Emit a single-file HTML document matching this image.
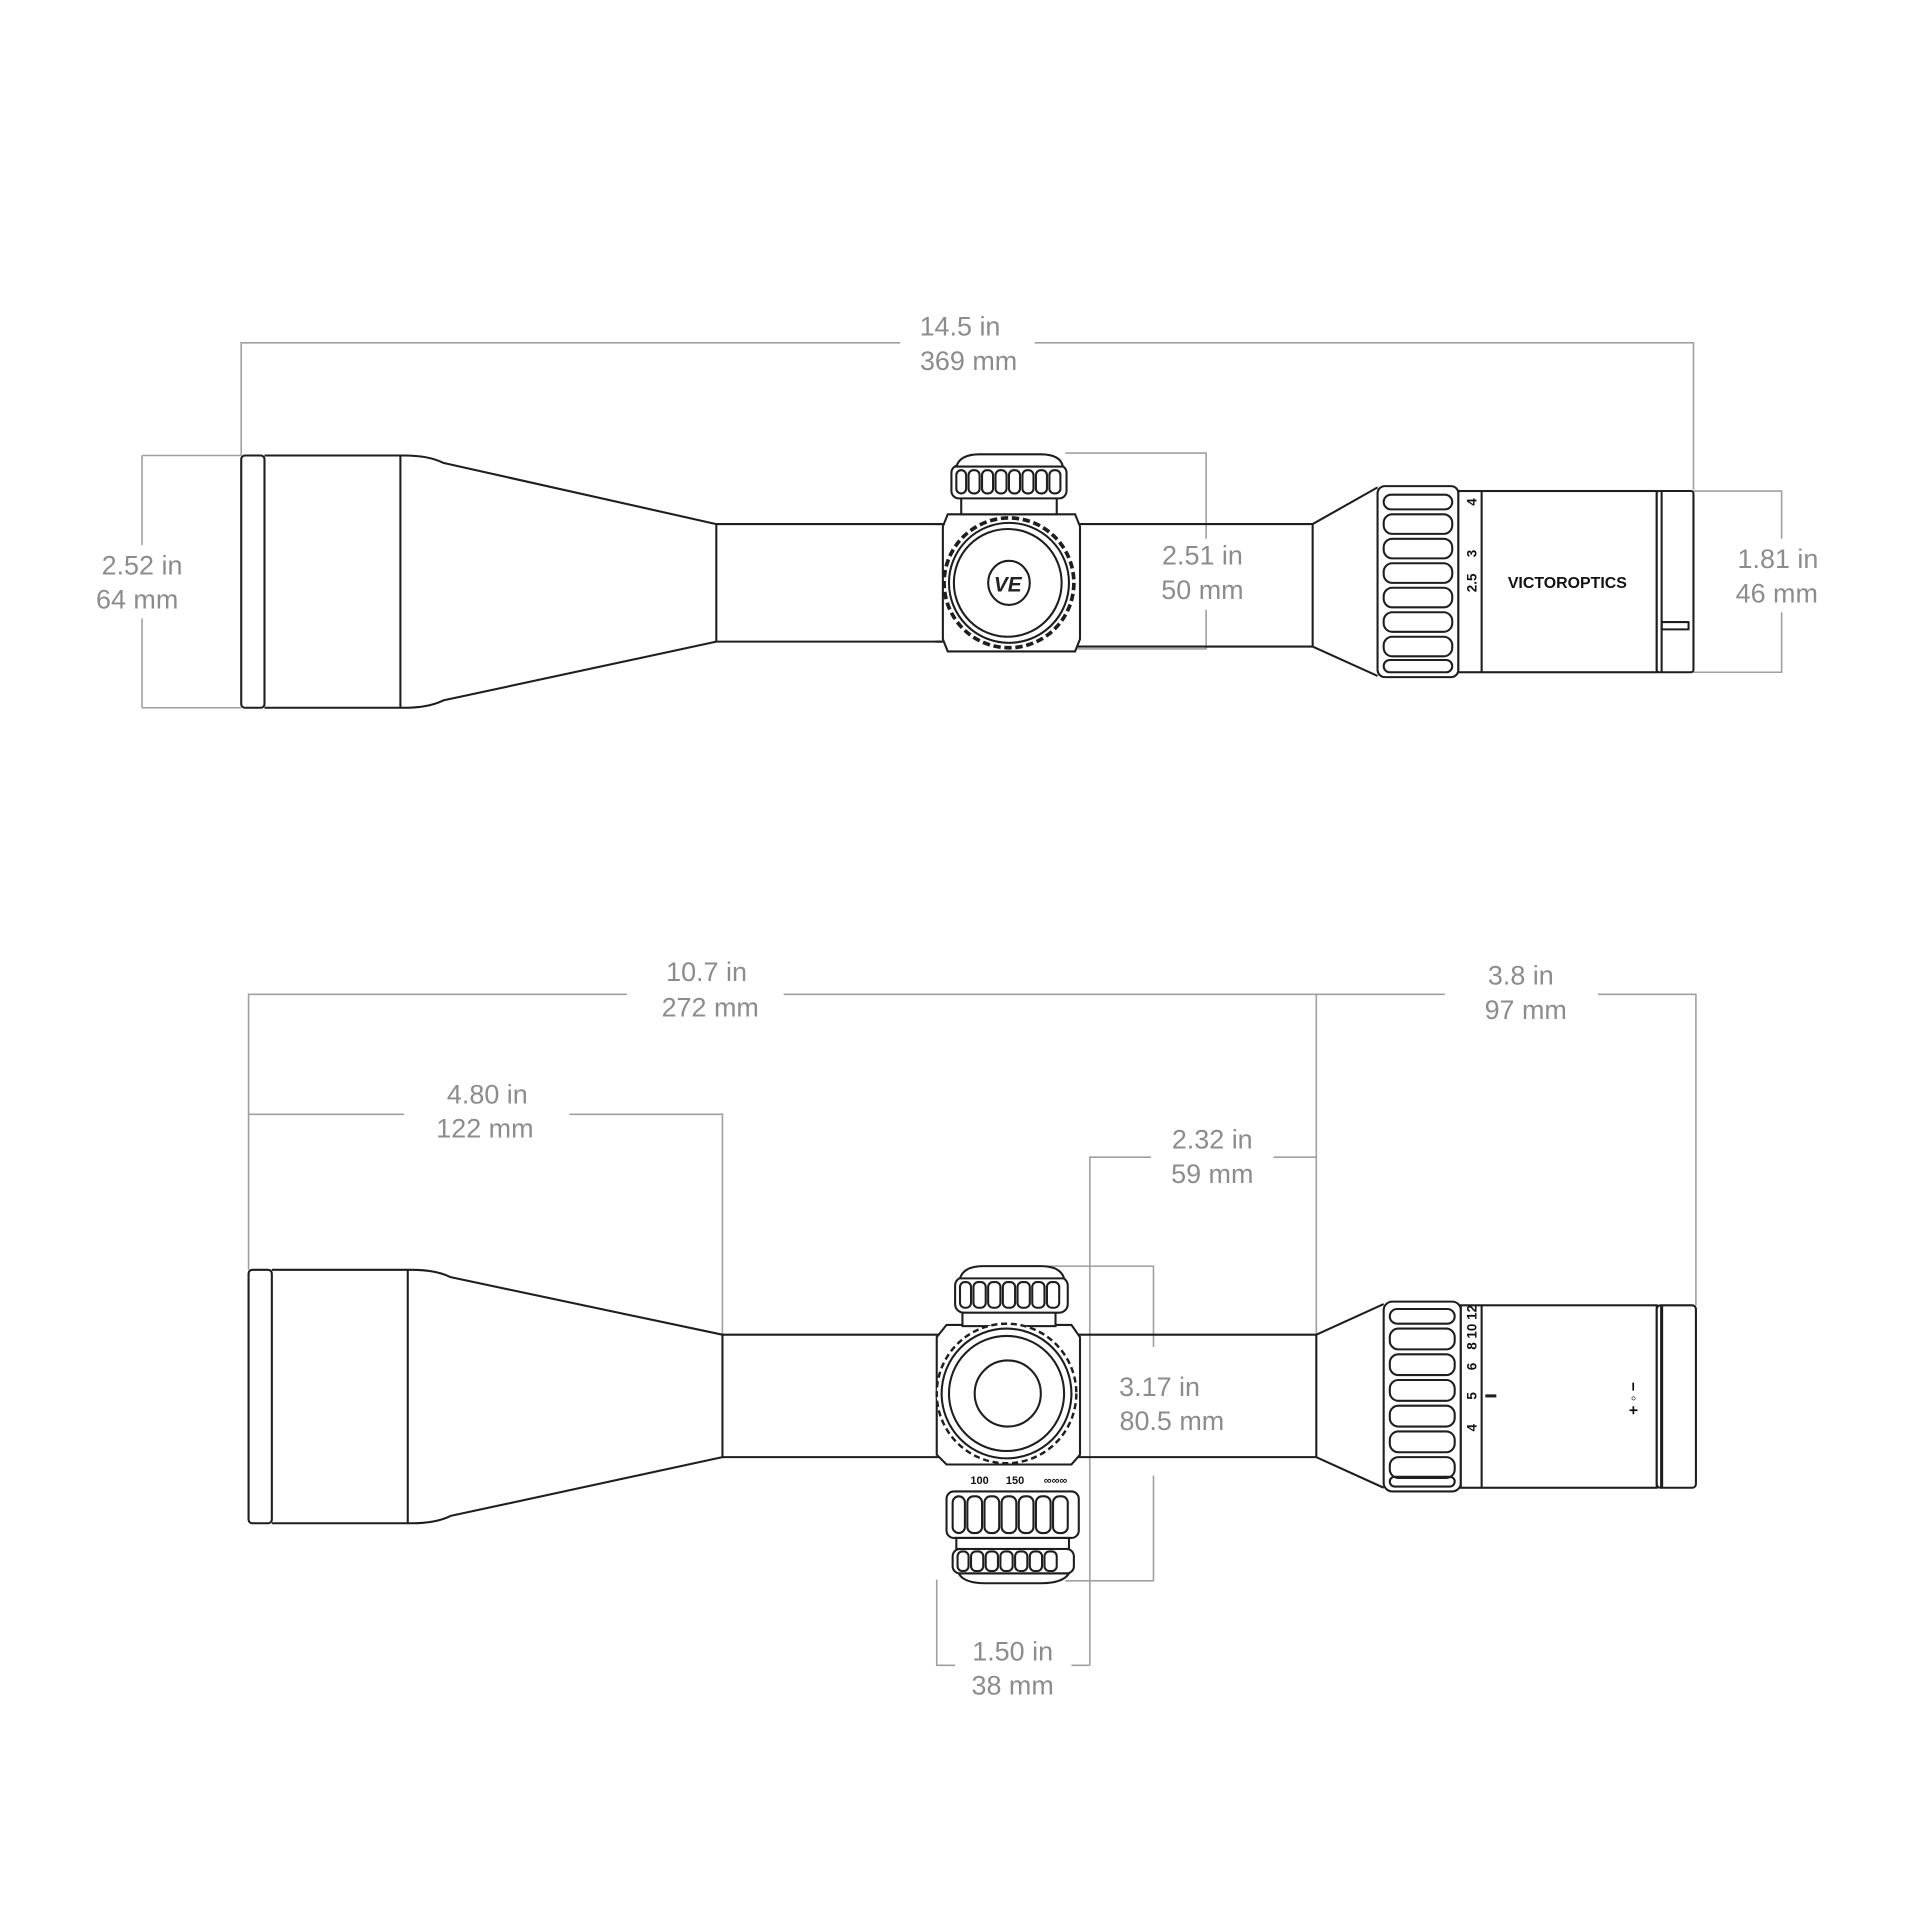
<!DOCTYPE html>
<html><head><meta charset="utf-8"><style>
html,body{margin:0;padding:0;background:#fff}
svg{display:block}
text{font-family:"Liberation Sans",sans-serif;fill:#8c8c8c;font-size:22px;text-anchor:middle}
.s{fill:none;stroke:#1e1e1e;stroke-width:1.7;stroke-linejoin:round}
.w{fill:#fff;stroke:#1e1e1e;stroke-width:1.7}
.d{fill:none;stroke:#a0a0a0;stroke-width:1.3}
.k{font-family:"Liberation Sans",sans-serif;fill:#111;font-size:11px;font-weight:bold}
</style></head><body>
<svg width="1920" height="1920" viewBox="0 0 1568 1568" xmlns="http://www.w3.org/2000/svg">
<!-- ============ TOP VIEW ============ -->
<!-- dimension lines -->
<path class="d" d="M197 372V280H735 M845 280H1383V400"/>
<text x="784" y="274">14.5 in</text><text x="791" y="302">369 mm</text>
<path class="d" d="M116 372H197 M116 578H197 M116 372V445 M116 505V578"/>
<text x="116" y="469">2.52 in</text><text x="112" y="497">64 mm</text>
<path class="d" d="M870 370H985V440 M985 498V530H880"/>
<text x="982" y="461">2.51 in</text><text x="982" y="489">50 mm</text>
<path class="d" d="M1383 401H1455V440 M1455 500V549H1383"/>
<text x="1452" y="464">1.81 in</text><text x="1451" y="492">46 mm</text>
<!-- scope body -->
<rect class="s" x="197" y="372" width="19" height="206" rx="3"/>
<path class="s" d="M216 372H330Q350 372 362 378L585 428V524L362 572Q350 578 330 578H216"/>
<line class="s" x1="327" y1="372" x2="327" y2="578"/>
<path class="s" d="M585 428H770 M585 524H770 M880 428H1072L1125 398 M880 528H1072L1125 552 M1072 428V528"/>
<!-- turret block -->
<path class="w" d="M770 430L774 420H878L882 430V522L878 532H774L770 522Z"/>
<line class="s" x1="764" y1="428" x2="770" y2="428"/><line class="s" x1="764" y1="524" x2="770" y2="524"/>
<!-- top turret -->
<rect class="w" x="785" y="404" width="78" height="16"/>
<rect class="w" x="777" y="380" width="94" height="27" rx="6"/>
<path class="w" d="M781 381Q784 371 800 371H850Q866 371 868 381Z"/>
<g class="s">
<rect x="781" y="384" width="8" height="19" rx="4"/><rect x="791" y="384" width="9" height="19" rx="4"/><rect x="802" y="384" width="9" height="19" rx="4"/><rect x="813" y="384" width="9" height="19" rx="4"/><rect x="824" y="384" width="9" height="19" rx="4"/><rect x="835" y="384" width="9" height="19" rx="4"/><rect x="846" y="384" width="9" height="19" rx="4"/><rect x="857" y="384" width="9" height="19" rx="4"/>
</g>
<!-- side knob -->
<circle cx="824" cy="476" r="53" fill="#fff" stroke="#1e1e1e" stroke-width="3" stroke-dasharray="6 3"/>
<circle class="s" cx="824" cy="476" r="49"/>
<circle class="s" cx="823" cy="476" r="44"/>
<ellipse class="s" cx="824" cy="476" rx="17" ry="18"/>
<text x="823" y="483" style="font-size:17px;font-weight:bold;fill:#222;font-style:italic">VE</text>
<!-- eyepiece ring -->
<rect class="w" x="1125" y="397" width="66" height="156" rx="6"/>
<g class="s">
<rect x="1130" y="404" width="56" height="12" rx="6"/><rect x="1130" y="420" width="56" height="16" rx="7"/><rect x="1130" y="440" width="56" height="16" rx="7"/><rect x="1130" y="460" width="56" height="16" rx="7"/><rect x="1130" y="480" width="56" height="16" rx="7"/><rect x="1130" y="500" width="56" height="16" rx="7"/><rect x="1130" y="520" width="56" height="16" rx="7"/><rect x="1130" y="539" width="56" height="10" rx="5"/>
</g>
<rect class="w" x="1191" y="401" width="162" height="148"/>
<line class="s" x1="1210" y1="401" x2="1210" y2="549"/>
<text class="k" transform="translate(1206,410) rotate(-90)" x="0" y="0">4</text>
<text class="k" transform="translate(1206,452) rotate(-90)">3</text>
<text class="k" transform="translate(1206,476) rotate(-90)">2.5</text>
<text x="1280" y="480" style="font-size:13px;font-weight:bold;fill:#111">VICTOROPTICS</text>
<rect class="w" x="1353" y="401" width="30" height="148" rx="2"/>
<line class="s" x1="1357" y1="401" x2="1357" y2="549"/>
<rect class="s" x="1357" y="508" width="22" height="6"/>

<!-- ============ BOTTOM VIEW ============ -->
<path class="d" d="M203 1037V812H512 M640 812H1180 M1305 812H1385V1066 M1075 812V1090"/>
<text x="577" y="801">10.7 in</text><text x="580" y="830">272 mm</text>
<text x="1242" y="804">3.8 in</text><text x="1246" y="832">97 mm</text>
<path class="d" d="M203 910H330 M465 910H590V1090"/>
<text x="398" y="901">4.80 in</text><text x="396" y="929">122 mm</text>
<path class="d" d="M890 1360V945H940 M1040 945H1075"/>
<text x="990" y="938">2.32 in</text><text x="990" y="966">59 mm</text>
<path class="d" d="M840 1034H942V1100 M942 1205V1291H870"/>
<text x="947" y="1140">3.17 in</text><text x="957" y="1168">80.5 mm</text>
<path class="d" d="M765 1290V1360H780 M875 1360H890"/>
<text x="827" y="1356">1.50 in</text><text x="827" y="1384">38 mm</text>
<!-- body -->
<rect class="s" x="203" y="1037" width="19" height="207" rx="3"/>
<path class="s" d="M222 1037H336Q356 1037 368 1043L590 1090V1190L368 1238Q356 1244 336 1244H222"/>
<line class="s" x1="333" y1="1037" x2="333" y2="1244"/>
<path class="s" d="M590 1090H770 M590 1190H770 M880 1090H1075L1130 1065 M880 1190H1075L1130 1215 M1075 1090V1190"/>
<!-- turret block -->
<path class="w" d="M765 1092L773 1082H875L882 1092V1188L875 1196H773L765 1188Z"/>
<!-- top turret -->
<rect class="w" x="786" y="1070" width="76" height="13"/>
<rect class="w" x="780" y="1043" width="92" height="29" rx="7"/>
<path class="w" d="M784 1044Q787 1034 803 1034H850Q866 1034 869 1044Z"/>
<g class="s">
<rect x="784" y="1047" width="9" height="21" rx="4"/><rect x="795" y="1047" width="10" height="21" rx="4"/><rect x="807" y="1047" width="10" height="21" rx="4"/><rect x="819" y="1047" width="10" height="21" rx="4"/><rect x="831" y="1047" width="10" height="21" rx="4"/><rect x="843" y="1047" width="10" height="21" rx="4"/><rect x="855" y="1047" width="10" height="21" rx="4"/>
</g>
<!-- side circle -->
<circle cx="822" cy="1138" r="57" fill="#fff" stroke="#1e1e1e" stroke-width="2" stroke-dasharray="5 3"/>
<circle class="s" cx="822" cy="1138" r="53"/>
<circle class="s" cx="822" cy="1138" r="47"/>
<circle class="s" cx="823" cy="1138" r="27"/>
<!-- bottom turret -->
<text x="800" y="1212" style="font-size:9px;font-weight:bold;fill:#111">100</text>
<text x="829" y="1212" style="font-size:9px;font-weight:bold;fill:#111">150</text>
<text x="862" y="1212" style="font-size:9px;font-weight:bold;fill:#111">∞∞∞</text>
<rect class="w" x="773" y="1218" width="108" height="38" rx="6"/>
<g class="s">
<rect x="778" y="1222" width="10" height="30" rx="5"/><rect x="790" y="1222" width="12" height="30" rx="5"/><rect x="804" y="1222" width="12" height="30" rx="5"/><rect x="818" y="1222" width="12" height="30" rx="5"/><rect x="832" y="1222" width="12" height="30" rx="5"/><rect x="846" y="1222" width="12" height="30" rx="5"/><rect x="860" y="1222" width="12" height="30" rx="5"/>
</g>
<rect class="w" x="781" y="1256" width="92" height="9"/>
<rect class="w" x="778" y="1265" width="99" height="20" rx="6"/>
<g class="s">
<rect x="782" y="1267" width="9" height="16" rx="4"/><rect x="793" y="1267" width="10" height="16" rx="4"/><rect x="805" y="1267" width="10" height="16" rx="4"/><rect x="817" y="1267" width="10" height="16" rx="4"/><rect x="829" y="1267" width="10" height="16" rx="4"/><rect x="841" y="1267" width="10" height="16" rx="4"/><rect x="853" y="1267" width="10" height="16" rx="4"/>
</g>
<path class="w" d="M783 1285H873Q868 1293 850 1293H805Q787 1293 783 1285Z"/>
<!-- eyepiece -->
<rect class="w" x="1130" y="1063" width="63" height="155" rx="7"/>
<g class="s">
<rect x="1135" y="1069" width="53" height="12" rx="6"/><rect x="1135" y="1085" width="53" height="17" rx="7"/><rect x="1135" y="1106" width="53" height="17" rx="7"/><rect x="1135" y="1127" width="53" height="17" rx="7"/><rect x="1135" y="1148" width="53" height="17" rx="7"/><rect x="1135" y="1169" width="53" height="17" rx="7"/><rect x="1135" y="1190" width="53" height="17" rx="7"/><rect x="1135" y="1206" width="53" height="8" rx="4"/>
</g>
<rect class="w" x="1193" y="1066" width="160" height="149"/>
<line class="s" x1="1210" y1="1066" x2="1210" y2="1215"/>
<text class="k" transform="translate(1206,1084) rotate(-90)">8 10 12</text>
<text class="k" transform="translate(1206,1116) rotate(-90)">6</text>
<text class="k" transform="translate(1206,1140) rotate(-90)">5</text>
<text class="k" transform="translate(1206,1166) rotate(-90)">4</text>
<line class="s" x1="1213" y1="1140" x2="1222" y2="1140" style="stroke-width:2.5"/>
<text x="1338" y="1142" transform="rotate(-90,1338,1142)" style="font-size:13px;font-weight:bold;fill:#111">+ ◦ −</text>
<rect class="w" x="1353" y="1066" width="32" height="149" rx="3"/>
<line class="s" x1="1357" y1="1066" x2="1357" y2="1215" style="stroke-width:2.5"/>
</svg>
</body></html>
